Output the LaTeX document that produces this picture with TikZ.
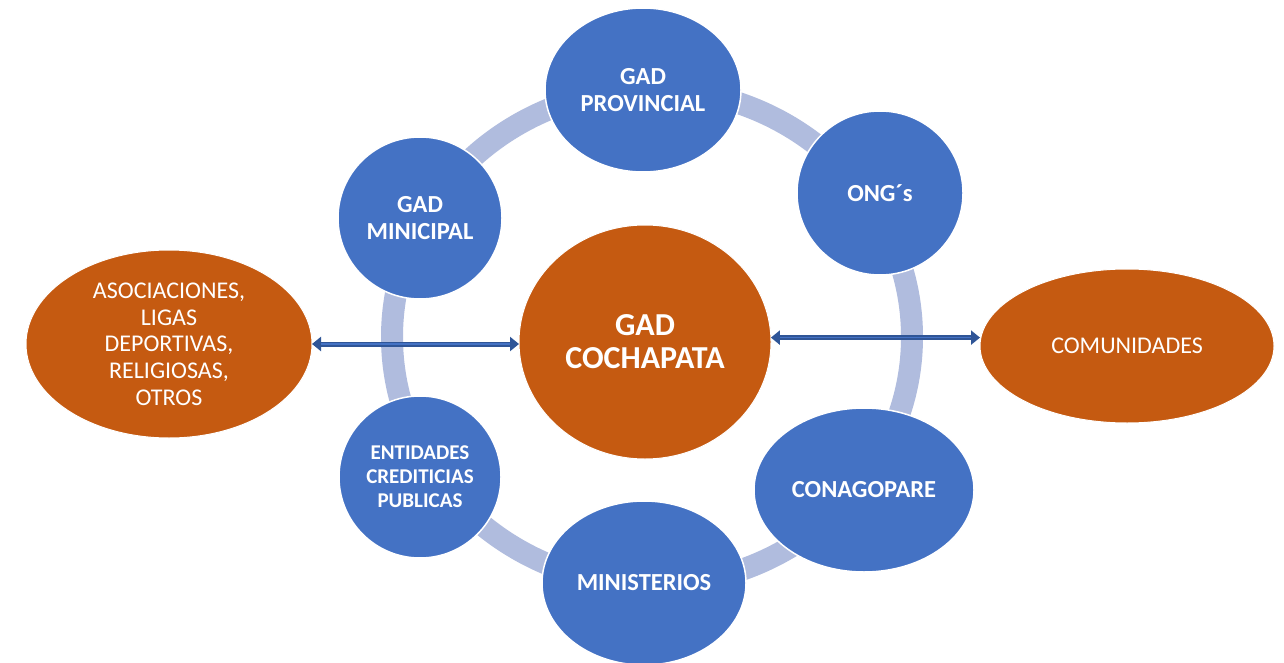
\documentclass[tikz,border=0pt]{standalone}
\usepackage{fontspec}
\setmainfont{Carlito}
\usetikzlibrary{shapes.geometric,arrows.meta}
\definecolor{cblue}{HTML}{4472C4}
\definecolor{corange}{HTML}{C55A11}
\definecolor{cring}{RGB}{176,188,222}
\definecolor{carrow}{HTML}{2F5597}
\definecolor{carrowin}{HTML}{4472C4}
\begin{document}
\begin{tikzpicture}[x=1pt,y=-1pt,
  bluec/.style={ellipse, fill=cblue, draw=white, line width=1.5pt, inner sep=0pt, outer sep=0pt,
    text=white, align=center, font=\bfseries\fontsize{24.5}{27}\selectfont},
  smallblue/.style={bluec, font=\bfseries\fontsize{21}{24}\selectfont},
  orangee/.style={ellipse, fill=corange, draw=white, line width=1pt, inner sep=0pt, outer sep=0pt,
    text=white, align=center, font=\fontsize{24}{26.7}\selectfont},
  ringstyle/.style={draw=cring, line width=22pt},
  link/.style={draw=carrow, line width=5pt, {Triangle[width=14pt,length=9pt]}-{Triangle[width=14pt,length=9pt]}},
  linkin/.style={draw=carrowin, line width=1.6pt, shorten <=9pt, shorten >=9pt}
]
\useasboundingbox (0,0) rectangle (1284,663);
\fill[white] (0,0) rectangle (1284,663);

% ring
\draw[ringstyle] (652,337) ellipse [x radius=260pt, y radius=248pt];

% outer nodes
\node[orangee, minimum width=286, minimum height=188] (asoc) at (169,344)
  {ASOCIACIONES,\\LIGAS\\DEPORTIVAS,\\RELIGIOSAS,\\OTROS};
\node[orangee, minimum width=294, minimum height=154] (com) at (1127,346) {COMUNIDADES};

% center
\node[orangee, minimum width=252, minimum height=234, font=\bfseries\fontsize{32}{33}\selectfont] (gad) at (645,342) {GAD\\COCHAPATA};

% blue circles
\node[bluec, minimum width=196, minimum height=164] (prov) at (643,90) {GAD\\PROVINCIAL};
\node[bluec, minimum width=166, minimum height=164] (ong) at (880,193) {ONG´s};
\node[bluec, minimum width=220, minimum height=164] (cona) at (864,490) {CONAGOPARE};
\node[bluec, minimum width=204, minimum height=164] (mini) at (644,583) {MINISTERIOS};
\node[smallblue, minimum width=162, minimum height=162] (ent) at (420,477) {ENTIDADES\\CREDITICIAS\\PUBLICAS};
\node[bluec, minimum width=164, minimum height=162] (mun) at (420,218) {GAD\\MINICIPAL};

% arrows
\coordinate (la) at (asoc.east);
\coordinate (lb) at (asoc.east -| gad.west);
\draw[link] (la) -- (lb);
\draw[linkin] (la) -- (lb);
\coordinate (ra) at (gad.2);
\coordinate (rb) at (gad.2 -| com.west);
\draw[link] (ra) -- (rb);
\draw[linkin] (ra) -- (rb);
\end{tikzpicture}
\end{document}
